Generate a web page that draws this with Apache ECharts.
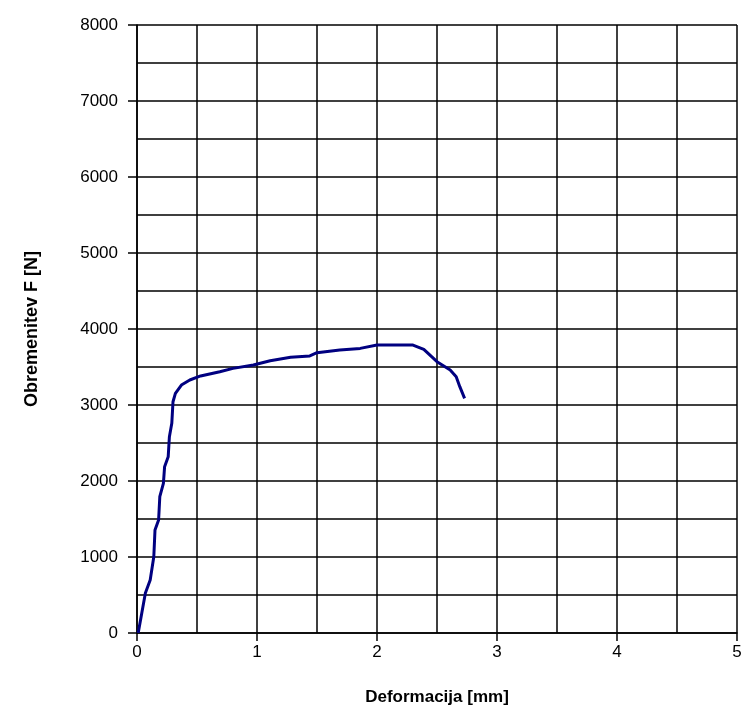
<!DOCTYPE html>
<html><head><meta charset="utf-8">
<script src="https://cdn.jsdelivr.net/npm/echarts@6/dist/echarts.min.js"></script>
<style>html,body{margin:0;padding:0;background:#fff}#c{width:746px;height:724px}</style>
</head><body><div id="c"></div>
<script>
const deformation = [0.01,0.04,0.07,0.11,0.14,0.15,0.18,0.19,0.22,0.23,0.26,0.27,0.29,0.30,0.32,0.37,0.44,0.53,0.69,0.80,0.97,1.11,1.28,1.44,1.50,1.69,1.86,2.00,2.30,2.39,2.50,2.61,2.66,2.69,2.73];
const force = [0,263,526,697,1004,1355,1487,1793,1970,2188,2320,2583,2759,3043,3154,3263,3329,3382,3438,3482,3526,3583,3627,3645,3688,3724,3745,3789,3789,3733,3570,3461,3373,3241,3088];
const xTitle = 'Deformacija [mm]';
const yTitle = 'Obremenitev F [N]';

const chart = echarts.init(document.getElementById('c'), null, {renderer:'canvas'});
const gridLine = {color:'#000', width:1.5};
const fontLabel = {color:'#000', fontSize:17, fontFamily:'Liberation Sans, Arial, sans-serif'};
const fontName = {color:'#000', fontSize:17, fontWeight:'bold', fontFamily:'Liberation Sans Narrow, Liberation Sans, Arial, sans-serif'};
chart.setOption({
  animation:false,
  backgroundColor:'#fff',
  grid:{left:137, right:9, top:25, bottom:91},
  xAxis:{
    type:'value', min:0, max:5, interval:1,
    name:xTitle, nameLocation:'middle', nameGap:56, nameTextStyle:fontName,
    axisLine:{show:true, lineStyle:{color:'#000', width:1.5}},
    axisTick:{show:true, inside:false, length:8, lineStyle:{color:'#000', width:1.5}},
    axisLabel:Object.assign({margin:11, formatter:v=>String(v)}, fontLabel),
    splitLine:{show:true, lineStyle:gridLine},
    minorTick:{show:false, splitNumber:2},
    minorSplitLine:{show:true, lineStyle:gridLine}
  },
  yAxis:{
    type:'value', min:0, max:8000, interval:1000,
    name:yTitle, nameLocation:'middle', nameGap:96, nameRotate:90,
    nameTextStyle:Object.assign({}, fontName, {fontSize:18}),
    axisLine:{show:true, lineStyle:{color:'#000', width:1.5}},
    axisTick:{show:true, inside:false, length:9, lineStyle:{color:'#000', width:1.5}},
    axisLabel:Object.assign({margin:19, formatter:v=>String(v)}, fontLabel),
    splitLine:{show:true, lineStyle:gridLine},
    minorTick:{show:false, splitNumber:2},
    minorSplitLine:{show:true, lineStyle:gridLine}
  },
  series:[{
    type:'line',
    data:deformation.map((d,i)=>[d, force[i]]),
    showSymbol:false, symbol:'none',
    lineStyle:{color:'#000080', width:3},
    smooth:false
  }]
});
</script></body></html>
